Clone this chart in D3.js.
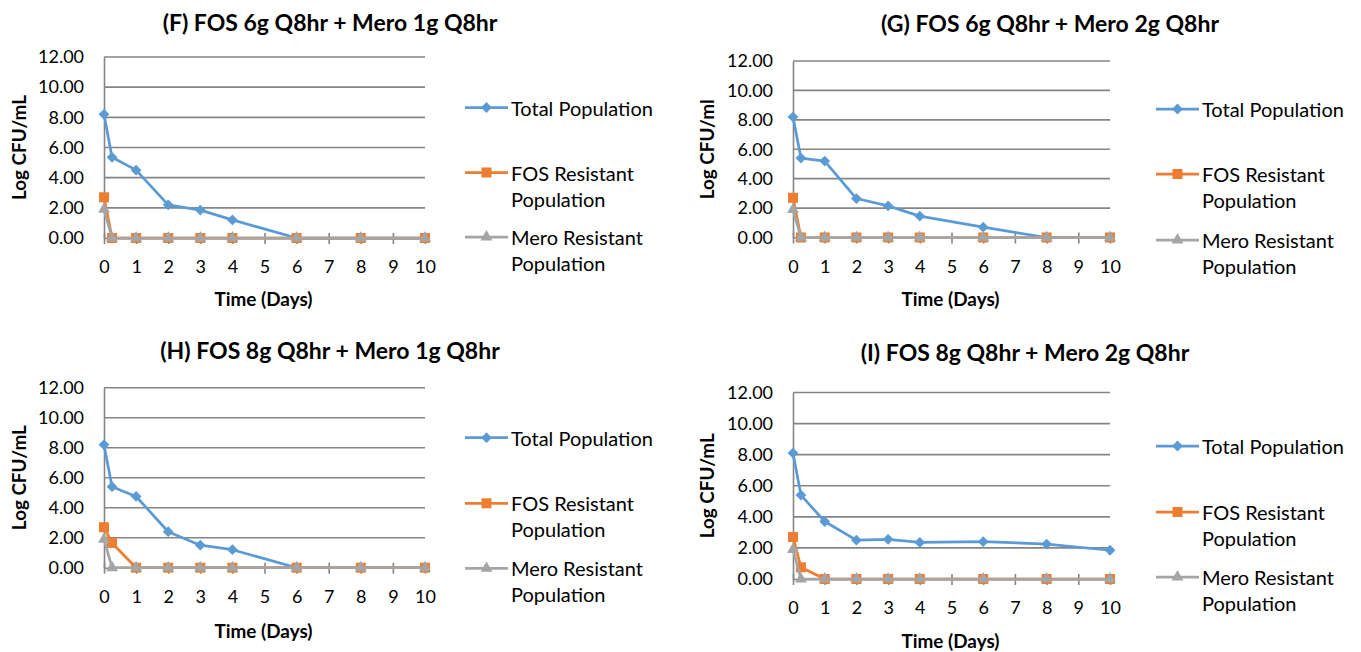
<!DOCTYPE html>
<html><head><meta charset="utf-8">
<script src="https://cdn.jsdelivr.net/npm/d3@7"></script>
<style>body{margin:0;background:#fff}</style>
</head><body><svg id="c" width="1361" height="652"></svg>
<script>
// ---- data ----
const days = [0, 0.25, 1, 2, 3, 4, 6, 8, 10];
const xTickValues = [0, 1, 2, 3, 4, 5, 6, 7, 8, 9, 10];
const yTickValues = [0, 2, 4, 6, 8, 10, 12];
const panelTitles = ["(F) FOS 6g Q8hr + Mero 1g Q8hr", "(G) FOS 6g Q8hr + Mero 2g Q8hr",
                     "(H) FOS 8g Q8hr + Mero 1g Q8hr", "(I) FOS 8g Q8hr + Mero 2g Q8hr"];
const yAxisTitles = ["Log CFU/mL", "Log CFU/ml", "Log CFU/mL", "Log CFU/mL"];
const xAxisTitle = "Time (Days)";
const seriesNames = ["Total Population", "FOS Resistant Population", "Mero Resistant Population"];
const legendLines = [["Total Population"], ["FOS Resistant", "Population"], ["Mero Resistant", "Population"]];

const totalF = [8.2, 5.35, 4.5, 2.2, 1.85, 1.2, 0, 0, 0];
const fosF   = [2.7, 0, 0, 0, 0, 0, 0, 0, 0];
const meroF  = [1.9, 0, 0, 0, 0, 0, 0, 0, 0];
const totalG = [8.2, 5.4, 5.2, 2.65, 2.15, 1.45, 0.7, 0, 0];
const fosG   = [2.7, 0, 0, 0, 0, 0, 0, 0, 0];
const meroG  = [1.9, 0, 0, 0, 0, 0, 0, 0, 0];
const totalH = [8.2, 5.4, 4.75, 2.4, 1.5, 1.2, 0, 0, 0];
const fosH   = [2.7, 1.65, 0, 0, 0, 0, 0, 0, 0];
const meroH  = [1.9, 0, 0, 0, 0, 0, 0, 0, 0];
const totalI = [8.1, 5.4, 3.7, 2.5, 2.55, 2.35, 2.4, 2.25, 1.85];
const fosI   = [2.7, 0.75, 0, 0, 0, 0, 0, 0, 0];
const meroI  = [1.9, 0, 0, 0, 0, 0, 0, 0, 0];

const panelSeries = [[totalF, fosF, meroF], [totalG, fosG, meroG], [totalH, fosH, meroH], [totalI, fosI, meroI]];

// ---- layout / style ----
const colors = ["#5B9BD5", "#ED7D31", "#A5A5A5"];
const gridColor = "#858585";
const FONT = "Lato, 'Open Sans', sans-serif";
const layout = [
  {x0:104, x1:425, y0:238, y1:57, tx:330, ty:22, lx:465, ly:[107.5,172.5,237], xty:298, ytx:18},
  {x0:793, x1:1110, y0:237.5, y1:61, tx:1050, ty:23, lx:1156, ly:[109,174,240], xty:298, ytx:706},
  {x0:104, x1:425, y0:567.7, y1:387.7, tx:330, ty:350, lx:465, ly:[437.7,503.3,568.3], xty:630, ytx:18},
  {x0:793, x1:1110, y0:579, y1:392.5, tx:1025, ty:352, lx:1156, ly:[446,512,577], xty:640, ytx:706}
];

const svg = d3.select("#c");
function fitSize(text, weight, target) {
  const t = svg.append("text").attr("font-family", FONT).attr("font-weight", weight)
    .attr("font-size", 20).text(text);
  const w = t.node().getComputedTextLength();
  t.remove();
  return 20 * target / w;
}
const titleSize = fitSize(panelTitles[0], "bold", 335);
const tickSize = fitSize("10.00", "normal", 46);
const legendSize = fitSize("Total Population", "normal", 142);
const yTitleSize = fitSize("Log CFU/mL", "bold", 105);
const xTitleSize = fitSize("Time (Days)", "bold", 98);

function marker(k) {
  if (k === 0) return d3.symbol().type(d3.symbolSquare).size(58)();
  if (k === 1) return d3.symbol().type(d3.symbolSquare).size(100)();
  return d3.symbol().type(d3.symbolTriangle).size(62)();
}
const markerRot = [45, 0, 0];

layout.forEach((p, i) => {
  const x = d3.scaleLinear().domain([0, 10]).range([p.x0, p.x1]);
  const y = d3.scaleLinear().domain([0, 12]).range([p.y0, p.y1]);
  const g = svg.append("g");

  // title
  g.append("text").attr("x", p.tx).attr("y", p.ty).attr("text-anchor", "middle")
    .attr("dominant-baseline", "central").attr("font-family", FONT).attr("font-weight", "bold")
    .attr("font-size", titleSize).attr("fill", "#000").text(panelTitles[i]);

  // gridlines
  g.append("g").selectAll("line").data(yTickValues.filter(v => v > 0)).join("line")
    .attr("x1", p.x0).attr("x2", p.x1).attr("y1", d => y(d)).attr("y2", d => y(d))
    .attr("stroke", gridColor).attr("stroke-width", 1.6);

  // y axis
  const ya = g.append("g").attr("transform", `translate(${p.x0},0)`)
    .call(d3.axisLeft(y).tickValues(yTickValues).tickFormat(d3.format(".2f")).tickSize(0).tickPadding(20));
  ya.select(".domain").attr("stroke", gridColor).attr("stroke-width", 1.6);
  ya.selectAll("text").attr("font-family", FONT).attr("font-size", tickSize).attr("fill", "#000");

  // x axis
  const xa = g.append("g").attr("transform", `translate(0,${p.y0})`)
    .call(d3.axisBottom(x).tickValues(xTickValues).tickSize(6).tickSizeOuter(0));
  xa.select(".domain").attr("stroke", gridColor).attr("stroke-width", 1.6);
  xa.selectAll(".tick line").attr("y1", -5).attr("stroke", gridColor).attr("stroke-width", 1.6);
  xa.selectAll(".tick text").attr("y", 29).attr("dy", "0.35em").attr("font-family", FONT)
    .attr("font-size", tickSize).attr("fill", "#000");

  // axis titles
  g.append("text").attr("x", (p.x0 + p.x1) / 2 - 1).attr("y", p.xty).attr("text-anchor", "middle")
    .attr("dominant-baseline", "central").attr("font-family", FONT).attr("font-weight", "bold")
    .attr("font-size", xTitleSize).attr("fill", "#000").text(xAxisTitle);
  const cy = (p.y0 + p.y1) / 2;
  g.append("text").attr("transform", `translate(${p.ytx},${cy}) rotate(-90)`).attr("text-anchor", "middle")
    .attr("dominant-baseline", "central").attr("font-family", FONT).attr("font-weight", "bold")
    .attr("font-size", yTitleSize).attr("fill", "#000").text(yAxisTitles[i]);

  // series
  const line = d3.line().x(d => x(d[0])).y(d => y(d[1]));
  panelSeries[i].forEach((vals, k) => {
    const pts = days.map((d, j) => [d, vals[j]]);
    g.append("path").datum(pts).attr("d", line).attr("fill", "none")
      .attr("stroke", colors[k]).attr("stroke-width", 2.75).attr("stroke-linejoin", "round");
    g.append("g").selectAll("path").data(pts).join("path")
      .attr("d", marker(k))
      .attr("transform", d => `translate(${x(d[0])},${y(d[1])}) rotate(${markerRot[k]})`)
      .attr("fill", colors[k]);
  });

  // legend
  legendLines.forEach((lines, k) => {
    const ly = p.ly[k];
    g.append("line").attr("x1", p.lx).attr("x2", p.lx + 43).attr("y1", ly).attr("y2", ly)
      .attr("stroke", colors[k]).attr("stroke-width", 2.75);
    g.append("path").attr("d", marker(k))
      .attr("transform", `translate(${p.lx + 21.5},${ly}) rotate(${markerRot[k]})`).attr("fill", colors[k]);
    lines.forEach((t, m) => {
      g.append("text").attr("x", p.lx + 46).attr("y", ly + m * 26).attr("dominant-baseline", "central")
        .attr("font-family", FONT).attr("font-size", legendSize).attr("fill", "#000").text(t);
    });
  });
});
</script>
</body></html>
